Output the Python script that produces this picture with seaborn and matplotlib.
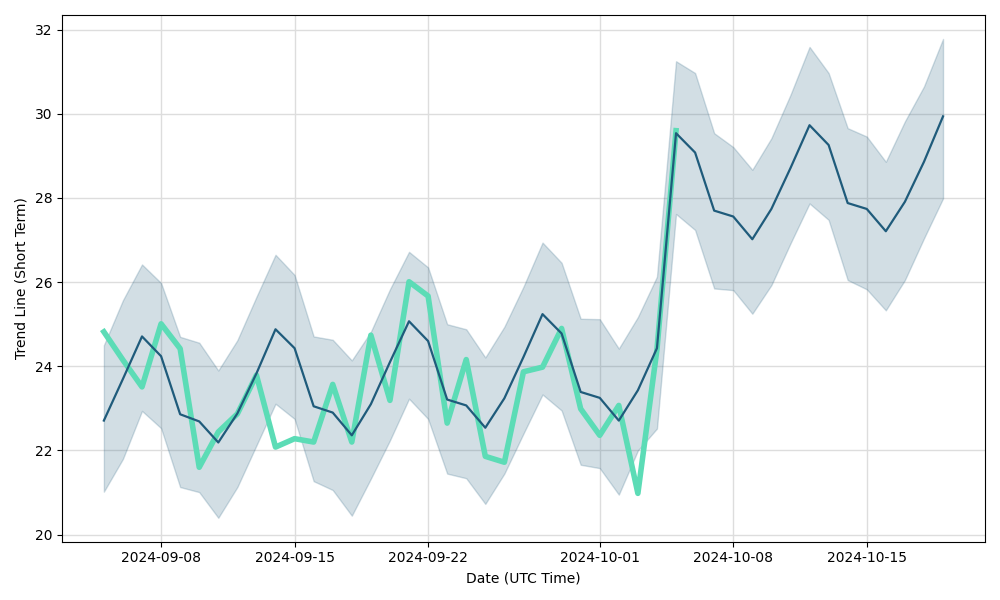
import pandas as pd
import matplotlib
matplotlib.use("Agg")
import matplotlib.pyplot as plt
import matplotlib.dates as mdates
import seaborn as sns

# Datas diárias (UTC)
datas = pd.date_range("2024-09-05", "2024-10-19", freq="D")

# Linha de tendência (curto prazo) e intervalo
tendencia = [22.71, 23.70, 24.71, 24.24, 22.86, 22.69, 22.19, 22.88, 23.83, 24.88,
             24.43, 23.05, 22.90, 22.36, 23.10, 24.10, 25.07, 24.60, 23.21, 23.07,
             22.54, 23.24, 24.22, 25.24, 24.78, 23.39, 23.25, 22.71, 23.43, 24.43,
             29.54, 29.08, 27.70, 27.56, 27.02, 27.74, 28.71, 29.73, 29.26, 27.88,
             27.74, 27.21, 27.91, 28.86, 29.94]
limite_sup = [24.50, 25.57, 26.42, 25.98, 24.70, 24.56, 23.90, 24.62, 25.65, 26.65,
              26.17, 24.71, 24.63, 24.14, 24.82, 25.83, 26.72, 26.35, 25.00, 24.88,
              24.21, 24.94, 25.89, 26.94, 26.46, 25.13, 25.12, 24.42, 25.17, 26.13,
              31.25, 30.97, 29.54, 29.21, 28.67, 29.42, 30.45, 31.59, 30.97, 29.66,
              29.46, 28.86, 29.82, 30.65, 31.78]
limite_inf = [21.02, 21.80, 22.94, 22.53, 21.13, 21.01, 20.40, 21.13, 22.12, 23.11,
              22.75, 21.27, 21.06, 20.45, 21.33, 22.24, 23.23, 22.75, 21.45, 21.34,
              20.73, 21.45, 22.40, 23.33, 22.95, 21.66, 21.58, 20.95, 22.00, 22.52,
              27.62, 27.24, 25.85, 25.81, 25.25, 25.93, 26.92, 27.87, 27.48, 26.05,
              25.83, 25.33, 26.05, 27.04, 27.99]

# Valores observados (até 2024-10-05)
observado = [24.82, 24.15, 23.51, 25.01, 24.42, 21.60, 22.44, 22.87, 23.79, 22.08,
             22.28, 22.20, 23.57, 22.20, 24.74, 23.19, 26.01, 25.67, 22.65, 24.16,
             21.86, 21.72, 23.87, 23.98, 24.90, 22.99, 22.36, 23.07, 20.98, 24.40,
             29.60]

df_tend = pd.DataFrame({"data": datas, "tendencia": tendencia,
                        "sup": limite_sup, "inf": limite_inf})
df_obs = pd.DataFrame({"data": datas[:len(observado)], "valor": observado})

cor_tend = "#1f5b7b"
cor_obs = "#5cdcb6"

fig, ax = plt.subplots(figsize=(10, 6))
ax.fill_between(df_tend["data"], df_tend["inf"], df_tend["sup"],
                color=cor_tend, alpha=0.2, linewidth=1, zorder=1)
sns.lineplot(data=df_obs, x="data", y="valor", color=cor_obs, linewidth=4,
             ax=ax, zorder=2)
sns.lineplot(data=df_tend, x="data", y="tendencia", color=cor_tend, linewidth=1.6,
             ax=ax, zorder=3)

ax.xaxis.set_major_locator(mdates.DayLocator(bymonthday=[1, 8, 15, 22]))
ax.xaxis.set_major_formatter(mdates.DateFormatter("%Y-%m-%d"))
ax.grid(True, color="#dddddd", linewidth=1)
ax.set_axisbelow(True)
ax.set_xlabel("Date (UTC Time)")
ax.set_ylabel("Trend Line (Short Term)")
plt.tight_layout()
plt.savefig("out.png", dpi=100)
